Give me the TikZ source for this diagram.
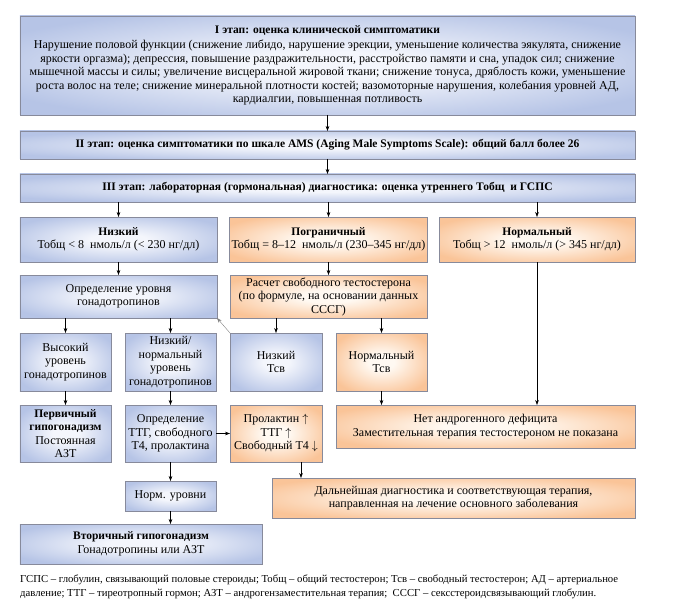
\documentclass[tikz,border=0pt]{standalone}
\usepackage{fontspec}
\setmainfont{Liberation Serif}[BoldFeatures={Scale=0.96}]
\usetikzlibrary{arrows.meta}

\definecolor{blueOut}{RGB}{182,196,230}
\definecolor{blueIn}{RGB}{244,246,252}
\definecolor{orangeOut}{RGB}{250,196,152}
\definecolor{orangeIn}{RGB}{255,249,242}
\definecolor{boxline}{RGB}{135,138,155}
\pgfdeclareradialshading{blueglow}{\pgfpoint{0bp}{0bp}}{color(0bp)=(blueIn); color(7bp)=(blueIn); color(30bp)=(blueOut); color(50bp)=(blueOut)}
\pgfdeclareradialshading{orangeglow}{\pgfpoint{0bp}{0bp}}{color(0bp)=(orangeIn); color(7bp)=(orangeIn); color(30bp)=(orangeOut); color(50bp)=(orangeOut)}

\tikzset{
  stagebox/.style={draw=boxline, line width=0.6pt, inner sep=2pt, outer sep=0pt, align=center,
    font=\fontsize{12bp}{13.5bp}\selectfont},
  bluebox/.style={stagebox, shading=blueglow},
  orangebox/.style={stagebox, shading=orangeglow},
  arr/.style={-{Stealth[length=5bp,width=3.6bp]}, line width=0.5pt, black},
}

\begin{document}
\begin{tikzpicture}[x=1bp, y=-1bp]
	\useasboundingbox (0,0) rectangle (678,611);
	% stages
	\node[bluebox, minimum width=615bp, minimum height=99bp] (stage1) at (327.5,65.5)
		{\textbf{I этап: оценка клинической симптоматики}\\[2bp]
		 Нарушение половой функции (снижение либидо, нарушение эрекции, уменьшение количества эякулята, снижение\\
		 яркости оргазма); депрессия, повышение раздражительности, расстройство памяти и сна, упадок сил; снижение\\
		 мышечной массы и силы; увеличение висцеральной жировой ткани; снижение тонуса, дряблость кожи, уменьшение\\
		 роста волос на теле; снижение минеральной плотности костей; вазомоторные нарушения, колебания уровней АД,\\
		 кардиалгии, повышенная потливость};
	\node[bluebox, minimum width=615bp, minimum height=28bp] (stage2) at (327.5,145)
		{\textbf{II этап: оценка симптоматики по шкале AMS (Aging Male Symptoms Scale): общий балл более 26}};
	\node[bluebox, minimum width=615bp, minimum height=28bp] (stage3) at (327.5,188)
		{\textbf{III этап: лабораторная (гормональная) диагностика: оценка утреннего Тобщ\ \ и ГСПС}};
	% testosterone levels
	\node[bluebox, minimum width=197bp, minimum height=45bp] (low) at (118.5,239.5)
		{\textbf{Низкий}\\ Тобщ < 8\ \ нмоль/л (< 230 нг/дл)};
	\node[orangebox, minimum width=197bp, minimum height=45bp] (border) at (328.5,239.5)
		{\textbf{Пограничный}\\ Тобщ = 8–12\ \ нмоль/л (230–345 нг/дл)};
	\node[orangebox, minimum width=196bp, minimum height=45bp] (normal) at (537,239.5)
		{\textbf{Нормальный}\\ Тобщ > 12\ \ нмоль/л (> 345 нг/дл)};
	\node[bluebox, minimum width=197bp, minimum height=43bp] (gonad) at (118.5,296.5)
		{Определение уровня\\ гонадотропинов};
	\node[orangebox, minimum width=197bp, minimum height=43bp] (freecalc) at (328.5,296.5)
		{Расчет свободного тестостерона\\ (по формуле, на основании данных\\ СССГ)};
	% third row
	\node[bluebox, minimum width=91bp, minimum height=58bp] (high) at (65.5,362)
		{Высокий\\ уровень\\ гонадотропинов};
	\node[bluebox, minimum width=91bp, minimum height=58bp] (lownorm) at (170.5,362)
		{Низкий/\\ нормальный\\ уровень\\ гонадотропинов};
	\node[bluebox, minimum width=92bp, minimum height=58bp] (lowfree) at (276,362)
		{Низкий\\ Тсв};
	\node[orangebox, minimum width=91bp, minimum height=58bp] (normfree) at (381.5,362)
		{Нормальный\\ Тсв};
	% fourth row
	\node[bluebox, minimum width=91bp, minimum height=57bp] (primary) at (65.5,433.5)
		{\textbf{Первичный}\\ \textbf{гипогонадизм}\\ Постоянная\\ АЗТ};
	\node[bluebox, minimum width=91bp, minimum height=57bp] (tsh) at (170.5,433.5)
		{Определение\\ ТТГ, свободного\\ Т4, пролактина};
	\node[orangebox, minimum width=92bp, minimum height=57bp] (prol) at (276,433.5)
		{Пролактин $\uparrow$\\ ТТГ $\uparrow$\\ Свободный Т4 $\downarrow$};
	\node[orangebox, minimum width=299bp, minimum height=43bp] (nodef) at (485.5,426.5)
		{Нет андрогенного дефицита\\ Заместительная терапия тестостероном не показана};
	% bottom
	\node[bluebox, minimum width=91bp, minimum height=30bp] (normlev) at (170.5,496)
		{Норм. уровни};
	\node[orangebox, minimum width=363bp, minimum height=40bp] (further) at (453.5,498)
		{Дальнейшая диагностика и соответствующая терапия,\\ направленная на лечение основного заболевания};
	\node[bluebox, minimum width=242bp, minimum height=40bp] (secondary) at (141,544)
		{\textbf{Вторичный гипогонадизм}\\ Гонадотропины или АЗТ};
	% footnote
	\node[anchor=north west, inner sep=0pt, align=left, font=\fontsize{10.7bp}{14bp}\selectfont] (abbr) at (20,575)
		{ГСПС – глобулин, связывающий половые стероиды; Тобщ – общий тестостерон; Тсв – свободный тестостерон; АД – артериальное\\
		 давление; ТТГ – тиреотропный гормон; АЗТ – андрогензаместительная терапия;\ \ СССГ – сексстероидсвязывающий глобулин.};

	% connectors
	\draw[arr] (stage1) -- (stage2);
	\draw[arr] (stage2) -- (stage3);
	\draw[arr] (stage3.south -| low) -- (low);
	\draw[arr] (stage3.south -| border) -- (border);
	\draw[arr] (stage3.south -| normal) -- (normal);
	\draw[arr] (low) -- (gonad);
	\draw[arr] (border) -- (freecalc);
	\draw[arr] (gonad.south -| high) -- (high);
	\draw[arr] (gonad.south -| lownorm) -- (lownorm);
	\draw[arr] (freecalc.south -| lowfree) -- (lowfree);
	\draw[arr] (freecalc.south -| normfree) -- (normfree);
	\draw[-{Stealth[length=5bp,width=3.6bp]}, line width=0.4pt, gray] (lowfree.north west) -- (gonad.south east);
	\draw[arr] (high) -- (primary);
	\draw[arr] (lownorm) -- (tsh);
	\draw[arr] (tsh) -- (prol);
	\draw[arr] (normfree) -- (normfree |- nodef.north);
	\draw[arr] (normal) -- (normal |- nodef.north);
	\draw[arr] ([xshift=25bp]prol.south) -- ([xshift=25bp]prol.south |- further.north);
	\draw[arr] (tsh) -- (normlev);
	\draw[arr] (normlev) -- (normlev |- secondary.north);
\end{tikzpicture}
\end{document}
